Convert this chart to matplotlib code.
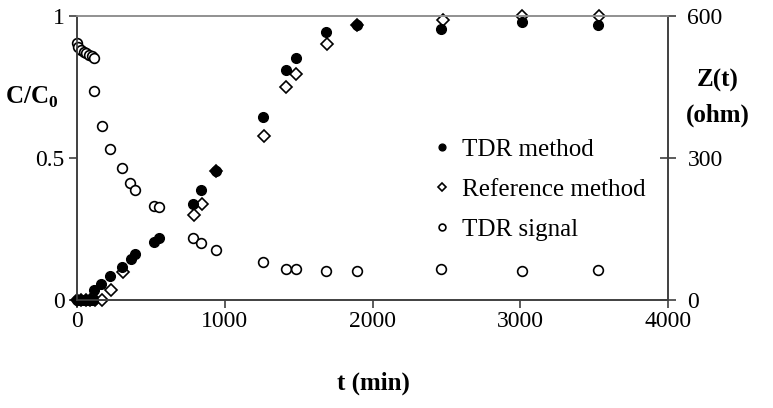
import matplotlib
matplotlib.use("Agg")
import matplotlib.pyplot as plt

plt.rcParams['font.family'] = ['Liberation Serif', 'DejaVu Serif']
plt.rcParams['mathtext.fontset'] = 'custom'
plt.rcParams['mathtext.bf'] = 'Liberation Serif:bold'
plt.rcParams['mathtext.rm'] = 'Liberation Serif'

# time (min) and concentration ratio, TDR method
t_tdr = [0, 15, 30, 45, 60, 75, 90, 105, 115, 162, 223, 302, 363, 392, 520, 556,
         786, 842, 939, 1259, 1412, 1480, 1687, 1894, 2464, 3011, 3529]
c_tdr = [0, 0, 0, 0, 0, 0, 0, 0, 0.035, 0.056, 0.085, 0.116, 0.144, 0.162, 0.204, 0.218,
         0.338, 0.385, 0.452, 0.643, 0.81, 0.852, 0.943, 0.968, 0.954, 0.977, 0.966]

# reference method
t_ref = [0, 30, 60, 90, 120, 167, 230, 308, 790, 849, 939, 1264, 1412, 1484, 1691, 1894,
         2475, 3011, 3534]
c_ref = [0, 0, 0, 0, 0, 0, 0.035, 0.1, 0.3, 0.338, 0.452, 0.575, 0.749, 0.796, 0.899, 0.968,
         0.984, 1.0, 1.0]

# TDR signal Z(t) in ohm
t_sig = [0, 10, 25, 45, 60, 80, 100, 115, 117, 167, 223, 306, 362, 392, 520, 556,
         786, 842, 939, 1259, 1412, 1480, 1687, 1894, 2464, 3011, 3529]
z_sig = [541, 533, 527, 522, 520, 517, 514, 511, 440, 368, 318, 278, 246, 231, 199, 196,
         130, 120, 106, 80, 65, 65, 62, 62, 65, 62, 63]

fig = plt.figure(figsize=(7.73, 4.08), dpi=100)
ax = fig.add_axes([77 / 773, 1 - 300 / 408, 591 / 773, 284.5 / 408])
ax2 = ax.twinx()

h1, = ax.plot(t_tdr, c_tdr, 'o', color='black', ms=7, clip_on=False, zorder=3,
              label='TDR method')
h2, = ax.plot(t_ref, c_ref, 'D', mfc='white', mec='black', mew=1.2, ms=6, clip_on=False,
              zorder=2, label='Reference method')
h3, = ax2.plot(t_sig, z_sig, 'o', mfc='white', mec='black', mew=1.2, ms=7, clip_on=False,
               label='TDR signal')

ax.set_xlim(0, 4000)
ax.set_ylim(0, 1)
ax2.set_ylim(0, 600)
ax.set_xticks([0, 1000, 2000, 3000, 4000])
ax.set_yticks([0, 0.5, 1])
ax.set_yticklabels(['0', '0.5', '1'])
ax2.set_yticks([0, 300, 600])

for a in (ax, ax2):
    a.set_zorder(1)
    for s in a.spines.values():
        s.set_color('#404040')
        s.set_linewidth(1.2)
    a.spines['top'].set_color('#909090')
ax.patch.set_visible(False)

ax.tick_params(axis='both', labelsize=17, direction='out', length=6, width=1.2,
               color='#404040', pad=3)
ax.tick_params(axis='x', pad=2)
ax2.tick_params(axis='y', labelsize=17, direction='inout', length=12, width=1.2,
                color='#404040', pad=8)

fig.text(5 / 773, 1 - 97 / 408, r'C/C$_\mathbf{0}$', fontsize=18, fontweight='bold',
         ha='left', va='center')
fig.text(718 / 773, 1 - 80 / 408, 'Z(t)', fontsize=18, fontweight='bold',
         ha='center', va='center')
fig.text(718 / 773, 1 - 115 / 408, '(ohm)', fontsize=18, fontweight='bold',
         ha='center', va='center')
fig.text(373 / 773, 1 - 383 / 408, 't (min)', fontsize=18, fontweight='bold',
         ha='center', va='center')

leg = ax2.legend([h1, h2, h3], ['TDR method', 'Reference method', 'TDR signal'],
                 loc='upper left', bbox_to_anchor=(422 / 773, 1 - 126 / 408),
                 bbox_transform=fig.transFigure, frameon=False, fontsize=18,
                 handlelength=0.6, handletextpad=0.5, labelspacing=0.7,
                 borderpad=0, markerscale=0.7)

fig.savefig('out.png', dpi=100)
